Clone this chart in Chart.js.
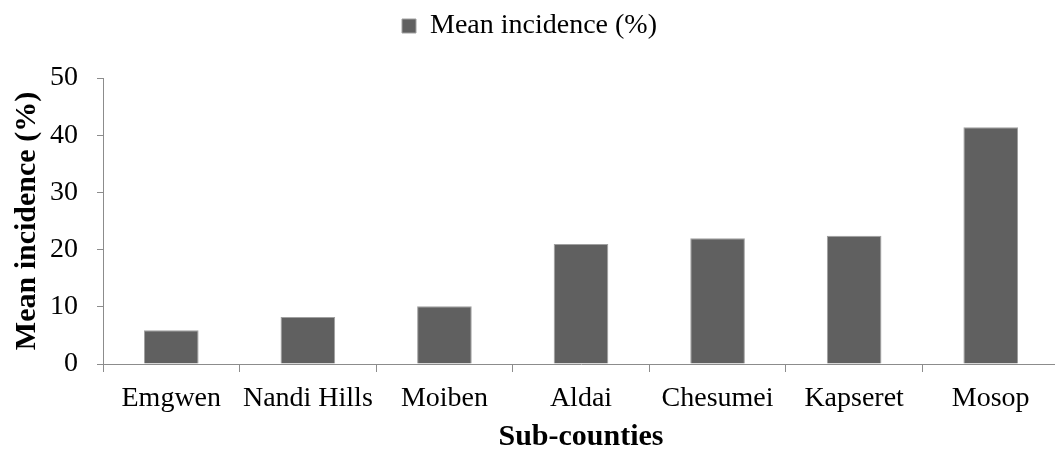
<!DOCTYPE html>
<html>
<head>
<meta charset="utf-8">
<script src="https://cdn.jsdelivr.net/npm/chart.js@4"></script>
<style>
  html, body { margin: 0; padding: 0; background: #fff; overflow: hidden; }
  #wrap { width: 1059px; height: 455px; position: relative; }
</style>
</head>
<body>
<div id="wrap"><canvas id="myChart"></canvas></div>
<script>
const subCounties = ["Emgwen", "Nandi Hills", "Moiben", "Aldai", "Chesumei", "Kapseret", "Mosop"];
const meanIncidence = [5.9, 8.2, 10.1, 21.0, 22.0, 22.4, 41.4];
const yTicks = [0, 10, 20, 30, 40, 50];

const serif = "'Liberation Serif', 'Times New Roman', serif";
const axisGrey = "#8c8c8c";

// push the plot down below the legend
const legendSpace = {
  id: "legendSpace",
  beforeInit(chart) {
    const fit = chart.legend.fit;
    chart.legend.fit = function () {
      fit.call(chart.legend);
      this.height += 28;
    };
  }
};

const ctx = document.getElementById("myChart");

new Chart(ctx, {
  type: "bar",
  data: {
    labels: subCounties,
    datasets: [{
      label: "Mean incidence (%)",
      data: meanIncidence,
      backgroundColor: "#606060",
      borderColor: "#a0a0a0",
      borderWidth: 1,
      barPercentage: 0.4,
      categoryPercentage: 1
    }]
  },
  options: {
    responsive: true,
    maintainAspectRatio: false,
    animation: false,
    layout: { padding: 0 },
    plugins: {
      legend: {
        position: "top",
        labels: {
          color: "#000",
          font: { family: serif, size: 28 },
          boxWidth: 14,
          boxHeight: 14,
          padding: 12
        }
      },
      tooltip: { enabled: false }
    },
    scales: {
      x: {
        afterFit(scale) { scale.height = 91; },
        grid: {
          drawOnChartArea: false,
          tickLength: 8,
          color: axisGrey,
          offset: true
        },
        border: { color: axisGrey, width: 1 },
        ticks: {
          color: "#000",
          font: { family: serif, size: 28 },
          padding: 10,
          maxRotation: 0,
          autoSkip: false
        },
        title: {
          display: true,
          text: "Sub-counties",
          color: "#000",
          font: { family: serif, size: 30, weight: "bold" },
          padding: { top: 0, bottom: 0 }
        }
      },
      y: {
        min: 0,
        max: 50,
        afterFit(scale) { scale.width = 103; },
        afterBuildTicks(scale) { scale.ticks = yTicks.map(v => ({ value: v })); },
        grid: {
          drawOnChartArea: false,
          tickLength: 6,
          color: axisGrey
        },
        border: { color: axisGrey, width: 1 },
        ticks: {
          color: "#000",
          font: { family: serif, size: 28 },
          padding: 19
        },
        title: {
          display: true,
          text: "Mean incidence (%)",
          color: "#000",
          font: { family: serif, size: 30, weight: "bold" },
          padding: { top: 9, bottom: 0 }
        }
      }
    }
  },
  plugins: [legendSpace]
});
</script>
</body>
</html>
